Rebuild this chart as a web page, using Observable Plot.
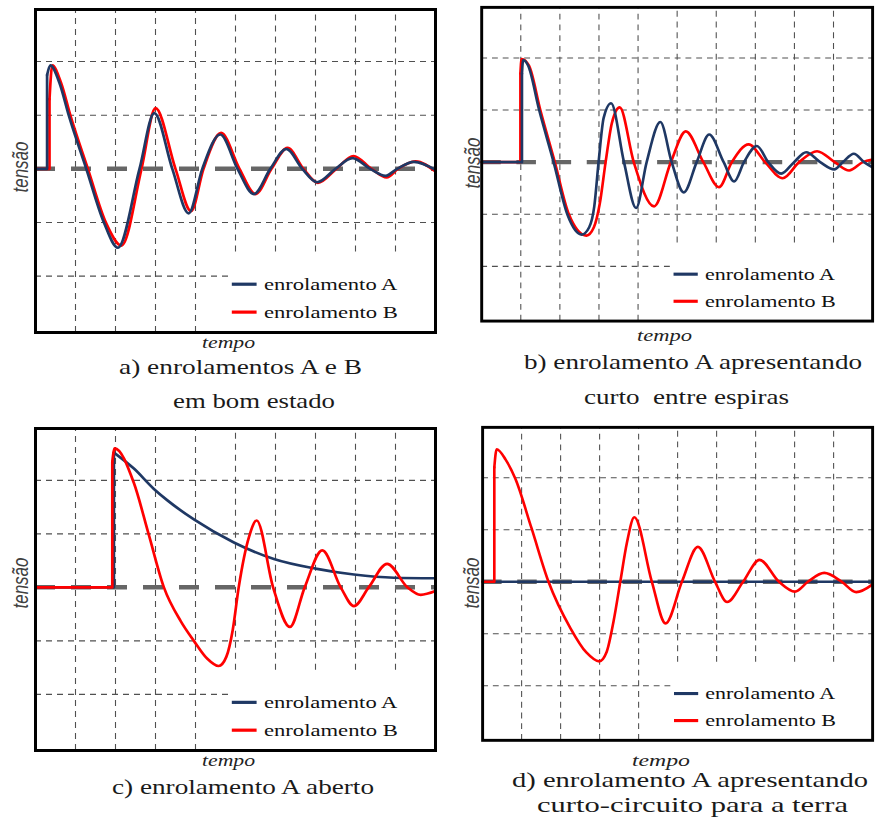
<!DOCTYPE html>
<html><head><meta charset="utf-8">
<script src="https://cdn.jsdelivr.net/npm/d3@7"></script>
<script src="https://cdn.jsdelivr.net/npm/@observablehq/plot@0.6"></script>
<style>
html,body{margin:0;padding:0;background:#fff;overflow:hidden;}
#root{position:relative;width:877px;height:831px;overflow:hidden;background:#fff;}
.panel{position:absolute;}
.txt{position:absolute;white-space:pre;line-height:1;transform-origin:0 0;color:#1a1a1a;font-family:"Liberation Serif","DejaVu Serif",serif;}
.ylab{position:absolute;white-space:pre;line-height:1;color:#404040;font-family:"Liberation Sans",Arial,sans-serif;font-style:italic;font-size:17px;transform:translate(-50%,-50%) rotate(-90deg) scaleY(1.3);}
</style></head><body><div id="root"></div>
<script>
// ---- series, colours, grid ----
const SERIES = ["enrolamento A", "enrolamento B"];
const COLORS = ["#1f3864", "#ff0000"];
const GRID_X = [1, 2, 3, 4, 5, 6, 7, 8, 9];
const GRID_Y = [-2, -1, 1, 2];
const X_DOMAIN = [0, 10];
const Y_DOMAIN = [-3.05, 2.97];
const LEGEND_Y = [-2.15, -2.67];

// ---- data: [tempo, tensão]; first three points = step, rest = oscillation ----
// a) enrolamentos A e B em bom estado
const a_A = [[0,0],[0.29,0],[0.29,1.75],[0.37,1.93],[0.6,1.6],[0.83,1.0],[1.27,0],[1.71,-1.0],[2.06,-1.47],[2.6,0],[2.97,1.04],[3.42,0],[3.83,-0.83],[4.17,0],[4.62,0.64],[5.05,0],[5.46,-0.47],[5.87,0],[6.27,0.37],[6.67,0],[7.04,-0.25],[7.5,0],[7.92,0.2],[8.37,0],[8.75,-0.13],[9.04,0],[9.46,0.13],[10,-0.02]];
const a_B = [[0,0],[0.35,0],[0.35,1.3],[0.42,1.93],[0.64,1.6],[0.87,1.0],[1.31,0],[1.76,-1.0],[2.15,-1.43],[2.65,0],[3.0,1.13],[3.5,0],[3.89,-0.79],[4.2,0],[4.64,0.67],[5.1,0],[5.5,-0.47],[5.9,0],[6.3,0.39],[6.7,0],[7.06,-0.26],[7.52,0],[7.95,0.24],[8.4,0],[8.78,-0.16],[9.06,0],[9.5,0.14],[10,-0.05]];
// b) enrolamento A apresentando curto entre espiras
const b_A = [[0,0],[1.03,0],[1.03,1.7],[1.06,1.96],[1.19,1.85],[1.47,1.0],[1.84,0],[2.19,-1.0],[2.56,-1.39],[2.75,-1.25],[2.88,-0.85],[2.99,0],[3.12,0.85],[3.31,1.13],[3.64,0],[3.95,-0.88],[4.22,0],[4.57,0.77],[4.86,0],[5.17,-0.58],[5.5,0],[5.82,0.53],[6.19,0],[6.46,-0.37],[6.71,0],[7.04,0.31],[7.33,0],[7.66,-0.22],[7.99,0],[8.3,0.19],[8.66,0],[9.02,-0.14],[9.24,0],[9.52,0.16],[9.78,0],[10,-0.1]];
const b_B = [[0,0],[0.99,0],[0.99,1.7],[1.02,1.98],[1.21,1.85],[1.5,1.0],[1.87,0],[2.23,-1.0],[2.68,-1.41],[2.87,-1.25],[3.02,-0.8],[3.17,0],[3.33,0.75],[3.53,1.05],[3.89,0],[4.41,-0.85],[4.84,0],[5.22,0.59],[5.67,0],[6.07,-0.48],[6.4,0],[6.83,0.34],[7.25,0],[7.7,-0.31],[8.12,0],[8.58,0.21],[9.03,0],[9.4,-0.16],[9.75,0],[10,0.05]];
// c) enrolamento A aberto
const c_A = [[0,0],[1.96,0],[1.96,2.52],[2.46,2.22],[2.96,1.84],[3.29,1.63],[3.96,1.27],[4.96,0.84],[5.96,0.53],[7.0,0.35],[7.96,0.24],[8.96,0.18],[10,0.17]];
const c_B = [[0,0],[1.92,0],[1.92,2.35],[1.98,2.6],[2.46,1.95],[2.83,0.99],[3.21,0],[3.63,-0.63],[3.96,-1.0],[4.29,-1.33],[4.58,-1.47],[4.77,-1.3],[4.93,-0.8],[5.08,0],[5.34,0.95],[5.53,1.25],[5.94,0],[6.36,-0.74],[6.73,0],[7.17,0.69],[7.63,0],[7.96,-0.35],[8.33,0],[8.79,0.44],[9.3,0],[9.63,-0.14],[10,-0.07]];
// d) enrolamento A apresentando curto-circuito para a terra
const d_A = [[0,0],[5,0],[10,0]];
const d_B = [[0,0],[0.3,0],[0.3,2.2],[0.36,2.55],[0.59,2.35],[0.84,1.98],[1.25,1.04],[1.69,0],[2.25,-0.89],[2.66,-1.36],[2.99,-1.53],[3.18,-1.35],[3.36,-0.75],[3.53,0],[3.7,0.75],[3.89,1.24],[4.34,0],[4.69,-0.8],[5.11,0],[5.52,0.67],[5.96,0],[6.27,-0.39],[6.68,0],[7.1,0.42],[7.6,0],[8.01,-0.19],[8.34,0],[8.76,0.17],[9.21,0],[9.58,-0.2],[10,-0.05]];

// ---- layout ----
const LEGEND_LEFT = 4.87, LEGEND_TOP = -1.55;
const SWATCH_X = [4.92, 5.54], LABEL_X = 5.71, LABEL_W = 134;

const panels = [
  {A: a_A, B: a_B, left: 0,   top: 4,   h: 323, redOnTop: false, ylab: [20.5, 167]},
  {A: b_A, B: b_B, left: 447, top: 2,   h: 321, redOnTop: false, ylab: [472.5, 162.5]},
  {A: c_A, B: c_B, left: 0,   top: 423, h: 322, redOnTop: true,  ylab: [20.5, 583]},
  {A: d_A, B: d_B, left: 448, top: 422, h: 321, redOnTop: true,  ylab: [472, 582.5]}
];

const captions = [
  ["a) enrolamentos A e B", 240, 374.3, 243, 21, false],
  ["em bom estado", 254, 408.3, 162, 21, false],
  ["b) enrolamento A apresentando", 692.5, 370, 338, 21, false],
  ["curto  entre espiras", 686, 405, 205, 21, false],
  ["c) enrolamento A aberto", 242.5, 794.5, 262, 21, false],
  ["d) enrolamento A apresentando", 690, 788, 356, 21, false],
  ["curto-circuito para a terra", 692.5, 813, 311, 21, false],
  ["tempo", 228.3, 348, 53, 16, true],
  ["tempo", 664, 341.7, 55, 16, true],
  ["tempo", 228.3, 766.7, 53, 16, true],
  ["tempo", 661, 766.7, 58, 16, true]
];

const root = document.getElementById("root");

function seriesMarks(pts, name) {
  const step = pts.slice(0, 3);
  const wave = pts.slice(2);
  const common = {x: d => d[0], y: d => d[1], stroke: () => name, strokeWidth: 2.7, strokeLinejoin: "round", strokeLinecap: "round"};
  return [
    Plot.line(step, {...common, curve: "linear"}),
    Plot.line(wave, {...common, curve: "monotone-x"})
  ];
}

for (const p of panels) {
  const blue = seriesMarks(p.A, SERIES[0]);
  const red = seriesMarks(p.B, SERIES[1]);
  const svg = Plot.plot({
    width: 440,
    height: p.h + 10,
    marginLeft: 35, marginRight: 5, marginTop: 5, marginBottom: 5,
    x: {domain: X_DOMAIN, axis: null},
    y: {domain: Y_DOMAIN, axis: null},
    color: {domain: SERIES, range: COLORS},
    style: {background: "transparent", overflow: "visible"},
    marks: [
      Plot.ruleX(GRID_X, {x: d => d, y1: d => d > LEGEND_LEFT ? LEGEND_TOP : Y_DOMAIN[0], y2: Y_DOMAIN[1], stroke: "#505050", strokeWidth: 1.1, strokeDasharray: "6,5"}),
      Plot.ruleY(GRID_Y, {y: d => d, x1: X_DOMAIN[0], x2: d => d < LEGEND_TOP ? LEGEND_LEFT : X_DOMAIN[1], stroke: "#505050", strokeWidth: 1.1, strokeDasharray: "6,5"}),
      Plot.ruleY([0], {stroke: "#666", strokeWidth: 4.5, strokeDasharray: "20,16"}),
      ...(p.redOnTop ? [...blue, ...red] : [...red, ...blue]),
      Plot.ruleY(SERIES, {y: (d, i) => LEGEND_Y[i], x1: SWATCH_X[0], x2: SWATCH_X[1], stroke: d => d, strokeWidth: 3.2}),
      Plot.text(SERIES, {x: LABEL_X, y: (d, i) => LEGEND_Y[i], text: d => d, textAnchor: "start", fontSize: 17.5, fontFamily: "Liberation Serif", fill: "#111"}),
      Plot.frame({stroke: "#000", strokeWidth: 3})
    ]
  });
  const wrap = document.createElement("div");
  wrap.className = "panel";
  wrap.style.left = p.left + "px";
  wrap.style.top = p.top + "px";
  wrap.appendChild(svg);
  root.appendChild(wrap);
  // horizontal stretch of legend text (about its own left edge) to match the reference proportions
  svg.querySelectorAll('g[aria-label="text"] text').forEach(t => {
    const bb = t.getBBox();
    const s = LABEL_W / (bb.width || 1);
    const tr = t.getAttribute("transform") || "";
    t.setAttribute("transform", `${tr} translate(${bb.x},0) scale(${s},1) translate(${-bb.x},0)`);
  });
  const yl = document.createElement("div");
  yl.className = "ylab";
  yl.textContent = "tensão";
  yl.style.left = p.ylab[0] + "px";
  yl.style.top = p.ylab[1] + "px";
  root.appendChild(yl);
}

for (const [text, cx, base, w, size, italic] of captions) {
  const el = document.createElement("div");
  el.className = "txt";
  el.textContent = text;
  el.style.fontSize = size + "px";
  if (italic) { el.style.fontStyle = "italic"; el.style.color = "#222"; }
  root.appendChild(el);
  const mw = el.getBoundingClientRect().width || 1;
  const s = w / mw;
  el.style.left = (cx - w / 2) + "px";
  el.style.top = (base - 0.8375 * size) + "px";
  el.style.transform = `scaleX(${s})`;
}
</script>
</body></html>
